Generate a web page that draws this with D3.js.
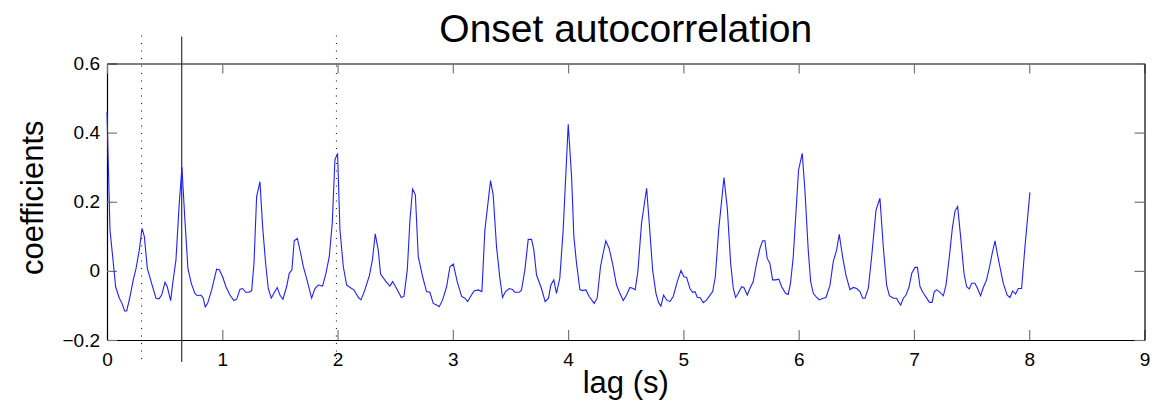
<!DOCTYPE html>
<html>
<head>
<meta charset="utf-8">
<script src="https://cdn.jsdelivr.net/npm/d3@7"></script>
<style>
  body { margin: 0; background: #fff; }
  text { font-family: "Liberation Sans", Arial, Helvetica, sans-serif; }
</style>
</head>
<body>
<div id="chart-area"></div>
<script>

// Data
let lags = [
  0, 0.026, 0.055, 0.075, 0.107, 0.130, 0.153, 0.171, 0.199, 0.228, 0.252, 0.280, 0.304, 0.324, 0.350, 0.387,
  0.425, 0.451, 0.474, 0.503, 0.523, 0.552, 0.570, 0.598, 0.627, 0.650, 0.674, 0.702, 0.731, 0.763, 0.783, 0.815,
  0.835, 0.852, 0.873, 0.908, 0.951, 0.974, 1.003, 1.032, 1.066, 1.101, 1.125, 1.154, 1.177, 1.203, 1.232, 1.255,
  1.275, 1.298, 1.327, 1.350, 1.376, 1.399, 1.425, 1.448, 1.477, 1.500, 1.526, 1.558, 1.581, 1.604, 1.624, 1.651,
  1.680, 1.703, 1.731, 1.775, 1.804, 1.832, 1.870, 1.899, 1.928, 1.954, 1.977, 2.000, 2.021, 2.050, 2.079, 2.108,
  2.142, 2.180, 2.203, 2.232, 2.276, 2.302, 2.327, 2.353, 2.373, 2.420, 2.454, 2.478, 2.512, 2.553, 2.576, 2.605,
  2.628, 2.651, 2.675, 2.700, 2.738, 2.772, 2.801, 2.830, 2.859, 2.882, 2.911, 2.946, 2.975, 3.004, 3.038, 3.076,
  3.105, 3.128, 3.154, 3.183, 3.220, 3.252, 3.278, 3.327, 3.350, 3.379, 3.408, 3.431, 3.457, 3.489, 3.518, 3.538,
  3.576, 3.596, 3.625, 3.654, 3.683, 3.703, 3.726, 3.769, 3.801, 3.830, 3.850, 3.876, 3.899, 3.928, 3.957, 4.001,
  4.030, 4.050, 4.073, 4.102, 4.125, 4.154, 4.183, 4.226, 4.252, 4.281, 4.304, 4.327, 4.356, 4.385, 4.420, 4.449,
  4.478, 4.507, 4.536, 4.565, 4.582, 4.605, 4.637, 4.681, 4.704, 4.733, 4.762, 4.785, 4.805, 4.828, 4.854, 4.883,
  4.912, 4.947, 4.979, 5.005, 5.028, 5.057, 5.080, 5.101, 5.121, 5.144, 5.173, 5.202, 5.231, 5.254, 5.277, 5.306,
  5.352, 5.381, 5.410, 5.433, 5.453, 5.476, 5.505, 5.525, 5.554, 5.577, 5.606, 5.635, 5.664, 5.687, 5.707, 5.727,
  5.750, 5.774, 5.802, 5.828, 5.852, 5.886, 5.909, 5.929, 5.953, 5.999, 6.031, 6.054, 6.083, 6.104, 6.127, 6.156,
  6.179, 6.214, 6.237, 6.272, 6.300, 6.329, 6.352, 6.381, 6.410, 6.445, 6.474, 6.503, 6.532, 6.555, 6.575, 6.604,
  6.633, 6.671, 6.705, 6.734, 6.763, 6.787, 6.821, 6.850, 6.865, 6.885, 6.908, 6.931, 6.958, 6.981, 7.010, 7.030,
  7.053, 7.082, 7.111, 7.134, 7.157, 7.177, 7.197, 7.220, 7.255, 7.278, 7.307, 7.333, 7.356, 7.379, 7.405, 7.434,
  7.457, 7.480, 7.500, 7.529, 7.552, 7.578, 7.601, 7.630, 7.659, 7.679, 7.703, 7.731, 7.775, 7.809, 7.833, 7.856,
  7.882, 7.905, 7.934, 7.963, 8.006
];
let coefs = [
  0.460, 0.118, 0.022, -0.046, -0.079, -0.094, -0.116, -0.116, -0.075, -0.026, 0.007, 0.060, 0.123, 0.099, 0.007, -0.036,
  -0.079, -0.081, -0.070, -0.033, -0.046, -0.086, -0.036, 0.031, 0.196, 0.300, 0.157, 0.007, -0.036, -0.065, -0.072, -0.070,
  -0.079, -0.104, -0.094, -0.055, 0.005, 0.003, -0.017, -0.046, -0.070, -0.086, -0.082, -0.053, -0.051, -0.062, -0.062, -0.057,
  0.022, 0.215, 0.258, 0.128, 0.022, -0.051, -0.079, -0.065, -0.048, -0.070, -0.082, -0.046, -0.007, 0.003, 0.087, 0.094,
  0.051, 0.012, -0.021, -0.079, -0.051, -0.041, -0.044, -0.007, 0.041, 0.138, 0.321, 0.340, 0.118, 0.012, -0.041, -0.048,
  -0.055, -0.077, -0.084, -0.060, -0.014, 0.031, 0.107, 0.060, -0.009, -0.031, -0.044, -0.031, -0.051, -0.077, -0.074, 0.003,
  0.147, 0.237, 0.220, 0.041, -0.017, -0.060, -0.062, -0.094, -0.099, -0.104, -0.084, -0.046, 0.012, 0.020, -0.031, -0.074,
  -0.079, -0.089, -0.074, -0.058, -0.055, -0.060, 0.118, 0.261, 0.220, 0.070, -0.021, -0.077, -0.060, -0.051, -0.054, -0.062,
  -0.062, -0.055, 0.003, 0.091, 0.091, 0.060, -0.012, -0.051, -0.089, -0.079, -0.041, -0.026, -0.065, -0.021, 0.118, 0.424,
  0.273, 0.099, 0.022, -0.054, -0.057, -0.055, -0.074, -0.094, -0.079, 0.012, 0.051, 0.087, 0.065, 0.022, -0.041, -0.065,
  -0.086, -0.070, -0.048, -0.051, -0.055, -0.002, 0.138, 0.239, 0.138, 0.003, -0.065, -0.092, -0.102, -0.070, -0.084, -0.089,
  -0.074, -0.031, 0.001, -0.017, -0.019, -0.051, -0.062, -0.060, -0.077, -0.077, -0.092, -0.084, -0.070, -0.060, -0.017, 0.118,
  0.270, 0.181, 0.022, -0.051, -0.077, -0.065, -0.046, -0.048, -0.070, -0.051, -0.031, 0.022, 0.065, 0.087, 0.087, 0.036,
  0.022, -0.026, -0.026, -0.024, -0.046, -0.065, -0.068, -0.036, 0.041, 0.292, 0.340, 0.234, 0.060, -0.031, -0.065, -0.077,
  -0.084, -0.079, -0.077, -0.041, 0.027, 0.060, 0.106, 0.041, -0.012, -0.054, -0.048, -0.051, -0.060, -0.079, -0.079, -0.051,
  0.041, 0.176, 0.210, 0.070, -0.041, -0.072, -0.079, -0.079, -0.089, -0.099, -0.079, -0.070, -0.046, -0.007, 0.010, 0.010,
  -0.046, -0.065, -0.079, -0.091, -0.091, -0.060, -0.055, -0.060, -0.072, -0.041, 0.041, 0.123, 0.173, 0.186, 0.099, -0.007,
  -0.046, -0.052, -0.036, -0.036, -0.051, -0.072, -0.049, -0.026, 0.017, 0.051, 0.087, 0.036, -0.036, -0.070, -0.077, -0.058,
  -0.067, -0.051, -0.051, 0.070, 0.227
];

// vertical marker lines (lag in s)
let dottedMarks = [0.30, 1.99];
let solidMarks = [0.648];

let xTicks = [0, 1, 2, 3, 4, 5, 6, 7, 8, 9];
let yTicks = [-0.2, 0, 0.2, 0.4, 0.6];

// SVG drawing area
let margin = {top: 63.5, right: 9.5, bottom: 65, left: 107};
let width = 1154 - margin.left - margin.right,
    height = 405 - margin.top - margin.bottom;

let svg = d3.select("#chart-area").append("svg")
    .attr("width", 1154)
    .attr("height", 405)
  .append("g")
    .attr("transform", "translate(" + margin.left + "," + margin.top + ")");

// Scales
let x = d3.scaleLinear().domain([0, 9]).range([0, width]);
let y = d3.scaleLinear().domain([-0.2, 0.6]).range([height, 0]);

let fmtY = d => d === 0 ? "0" : d3.format(".1f")(d).replace("-", "\u2212");

// Axes (matlab style: ticks point inward, box all round)
svg.append("g")
    .attr("class", "axis")
    .attr("transform", "translate(0," + height + ")")
    .call(d3.axisBottom(x).tickValues(xTicks).tickFormat(d3.format("d")).tickSize(-10).tickSizeOuter(0).tickPadding(13));

svg.append("g")
    .attr("class", "axis")
    .call(d3.axisLeft(y).tickValues(yTicks).tickFormat(fmtY).tickSize(-10).tickSizeOuter(0).tickPadding(7));

svg.append("g")
    .attr("class", "axis")
    .call(d3.axisTop(x).tickValues(xTicks).tickFormat("").tickSize(-10).tickSizeOuter(0));

svg.append("g")
    .attr("class", "axis")
    .attr("transform", "translate(" + width + ",0)")
    .call(d3.axisRight(y).tickValues(yTicks).tickFormat("").tickSize(-10).tickSizeOuter(0));

svg.selectAll(".axis .domain").attr("stroke", "#000").attr("stroke-width", 1.2);
svg.selectAll(".axis .tick line").attr("stroke", "#777").attr("stroke-width", 1.2);
svg.selectAll(".axis .tick text")
    .attr("fill", "#000")
    .style("font-size", "19px")
    .style("font-family", "'Liberation Sans', Arial, sans-serif");

// marker lines
svg.selectAll(".dotted")
    .data(dottedMarks)
    .enter().append("line")
    .attr("class", "dotted")
    .attr("x1", d => x(d)).attr("x2", d => x(d))
    .attr("y1", -28).attr("y2", height + 20)
    .attr("stroke", "#000")
    .attr("stroke-width", 1)
    .attr("stroke-dasharray", "1,6.5");

svg.selectAll(".solid")
    .data(solidMarks)
    .enter().append("line")
    .attr("class", "solid")
    .attr("x1", d => x(d)).attr("x2", d => x(d))
    .attr("y1", -27).attr("y2", height + 22)
    .attr("stroke", "#333")
    .attr("stroke-width", 1.2);

// the autocorrelation curve
let line = d3.line()
    .x((d, i) => x(lags[i]))
    .y(d => y(d));

svg.append("path")
    .datum(coefs)
    .attr("d", line)
    .attr("fill", "none")
    .attr("stroke", "#2020ff")
    .attr("stroke-width", 1.1);

// Labels
svg.append("text")
    .attr("x", width / 2)
    .attr("y", -21.5)
    .attr("text-anchor", "middle")
    .style("font-size", "39px")
    .text("Onset autocorrelation");

svg.append("text")
    .attr("x", width / 2)
    .attr("y", height + 53)
    .attr("text-anchor", "middle")
    .style("font-size", "31px")
    .text("lag (s)");

svg.append("text")
    .attr("transform", "translate(" + (43 - margin.left) + "," + (height / 2 - 4) + ") rotate(-90)")
    .attr("text-anchor", "middle")
    .style("font-size", "31px")
    .text("coefficients");

</script>
</body>
</html>
